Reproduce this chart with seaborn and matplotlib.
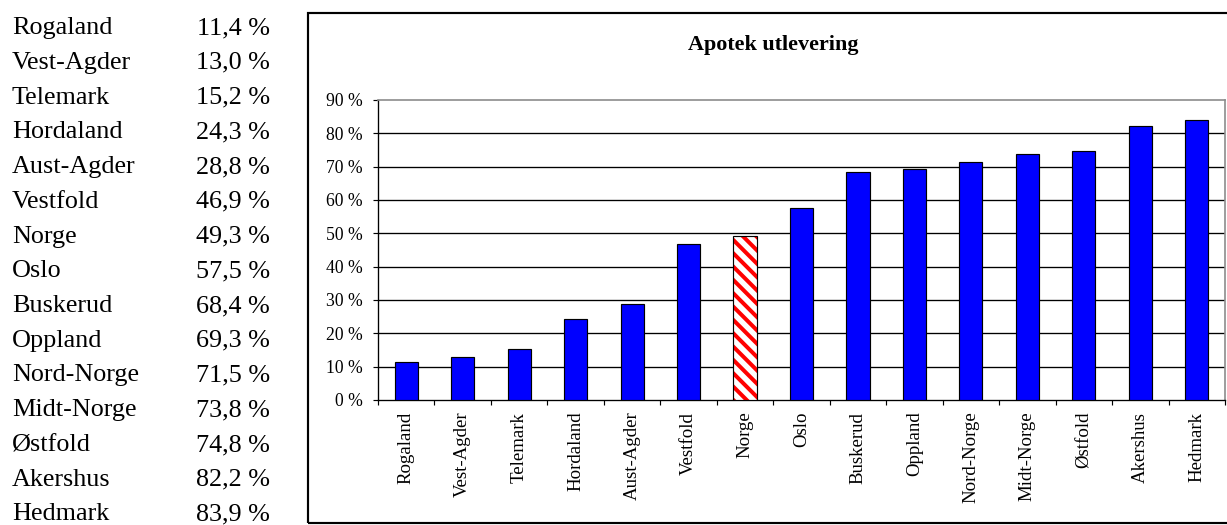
import matplotlib
matplotlib.use("Agg")
import matplotlib.pyplot as plt
from matplotlib.patches import Rectangle
from matplotlib.ticker import FixedLocator, FuncFormatter
import seaborn as sns

# Share of dispensing through pharmacies, per county (fraction)
counties = ["Rogaland", "Vest-Agder", "Telemark", "Hordaland", "Aust-Agder",
            "Vestfold", "Norge", "Oslo", "Buskerud", "Oppland", "Nord-Norge",
            "Midt-Norge", "Østfold", "Akershus", "Hedmark"]
shares = [0.114, 0.130, 0.152, 0.243, 0.288, 0.469, 0.493, 0.575, 0.684,
          0.693, 0.715, 0.738, 0.748, 0.822, 0.839]
national = "Norge"
y_ticks = [0.0, 0.1, 0.2, 0.3, 0.4, 0.5, 0.6, 0.7, 0.8, 0.9]
title = "Apotek utlevering"

sns.set_style("white")
plt.rcParams["font.family"] = ["Liberation Serif", "DejaVu Serif"]
plt.rcParams["hatch.linewidth"] = 2.4
for key in ["text.color", "axes.labelcolor", "xtick.color", "ytick.color",
            "xtick.labelcolor", "ytick.labelcolor"]:
    plt.rcParams[key] = "black"

DPI = 120
fig = plt.figure(figsize=(1227 / DPI, 525 / DPI), dpi=DPI)
ax = fig.add_axes([378 / 1227, 1 - 400 / 525, (1225 - 378) / 1227, 300 / 525])

colors = ["white" if c == national else "#0000FF" for c in counties]
sns.barplot(x=counties, y=shares, hue=counties, palette=colors, legend=False,
            width=0.41, edgecolor="black", linewidth=0.7, saturation=1,
            ax=ax, zorder=3)

# National average: red diagonal stripes inside a black outline
for patch, name in zip(ax.patches, counties):
    if name == national:
        patch.set_facecolor("white")
        patch.set_edgecolor("red")
        patch.set_linewidth(0)
        patch.set_hatch("\\\\\\")
        ax.add_patch(Rectangle(patch.get_xy(), patch.get_width(), patch.get_height(),
                               fill=False, edgecolor="black", linewidth=0.7, zorder=4))

ax.set_ylim(0, 0.9)
ax.set_xlim(-0.5, len(counties) - 0.5)
ax.yaxis.set_major_locator(FixedLocator(y_ticks))
ax.yaxis.set_major_formatter(FuncFormatter(lambda v, _: f"{v * 100:.0f} %"))
ax.tick_params(axis="y", which="major", direction="out", length=3, width=0.7,
               color="black", labelsize=10.6, pad=6, left=True)

# Category labels centred under bars, tick marks between categories
ax.set_xticks(range(len(counties)))
ax.set_xticklabels(counties, rotation=90, fontsize=11.3, va="top", ha="center")
ax.tick_params(axis="x", which="major", length=0, pad=7)
ax.xaxis.set_minor_locator(FixedLocator([i - 0.5 for i in range(len(counties) + 1)]))
ax.tick_params(axis="x", which="minor", direction="out", length=3, width=0.7,
               color="black", bottom=True)
ax.set_xlabel("")
ax.set_ylabel("")

ax.yaxis.grid(True, color="black", linewidth=0.8, zorder=1)
ax.set_axisbelow(True)
gridlines = ax.yaxis.get_gridlines()
gridlines[0].set_visible(False)
gridlines[-1].set_visible(False)

for side in ["left", "bottom"]:
    ax.spines[side].set_color("black")
    ax.spines[side].set_linewidth(0.8)
for side in ["top", "right"]:
    ax.spines[side].set_color("#8c8c8c")
    ax.spines[side].set_linewidth(1.0)

fig.text(773 / 1227, 1 - 45 / 525, title, ha="center", va="center",
         fontsize=13.3, fontweight="bold")

# Chart border
fig.add_artist(Rectangle((308 / 1227, 2 / 525), (1245 - 308) / 1227, (523 - 13) / 525,
                         transform=fig.transFigure, fill=False,
                         edgecolor="black", linewidth=1.3))

# Value table beside the chart
row0, step = 34, 34.75
for i, (name, val) in enumerate(zip(counties, shares)):
    y = 1 - (row0 + i * step) / 525
    label = f"{val * 100:.1f}".replace(".", ",") + " %"
    fig.text(12 / 1227, y, name, ha="left", va="baseline", fontsize=15.7)
    fig.text(270 / 1227, y, label, ha="right", va="baseline", fontsize=15.7)

fig.savefig("out.png", dpi=DPI)
